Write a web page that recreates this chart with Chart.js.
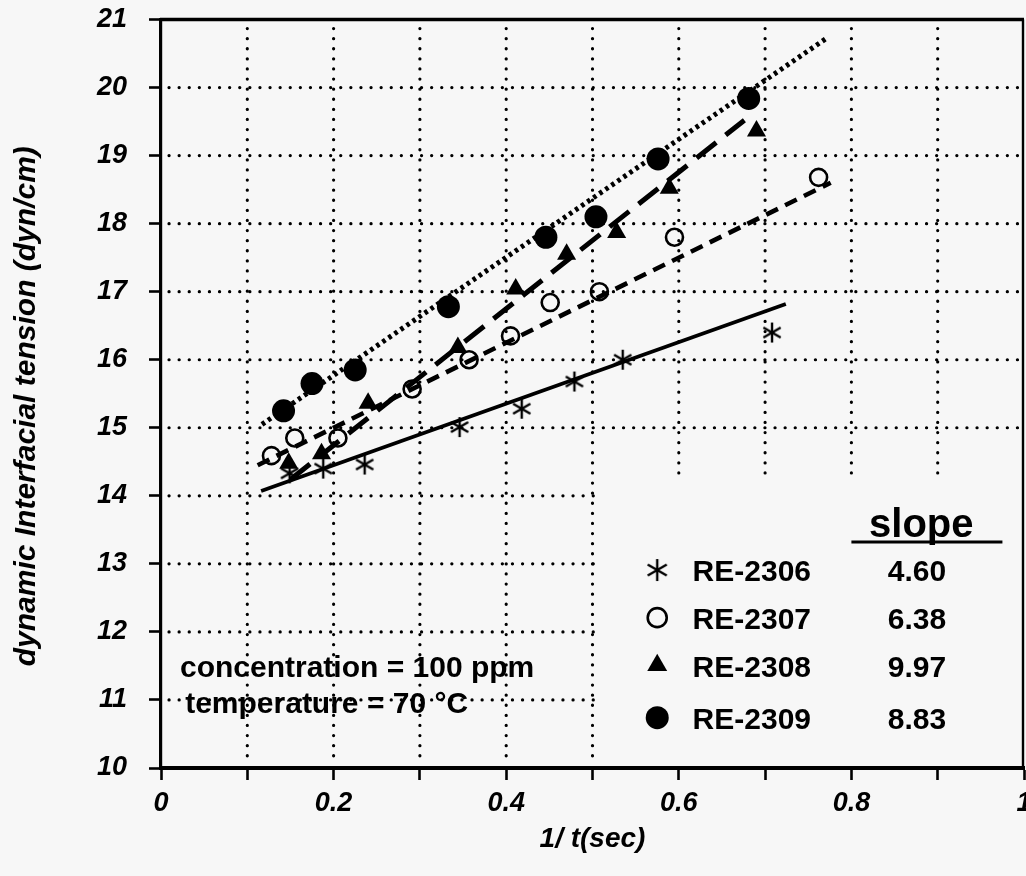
<!DOCTYPE html>
<html>
<head>
<meta charset="utf-8">
<script src="https://cdn.jsdelivr.net/npm/chart.js@4.4.0/dist/chart.umd.min.js"></script>
<style>
  html, body { margin: 0; padding: 0; background: #f7f7f7; }
  #wrap { width: 1026px; height: 876px; }
</style>
</head>
<body>
<div id="wrap"><canvas id="c" width="1026" height="876"></canvas></div>
<script>
// ---------------- data ----------------
const seriesNames = ['RE-2306', 'RE-2307', 'RE-2308', 'RE-2309'];
const slopeLabels = ['4.60', '6.38', '9.97', '8.83'];

const re2306X = [0.149, 0.188, 0.236, 0.346, 0.418, 0.479, 0.535, 0.708];
const re2306Y = [14.33, 14.40, 14.46, 15.01, 15.28, 15.68, 16.00, 16.40];

const re2307X = [0.128, 0.155, 0.205, 0.291, 0.357, 0.405, 0.451, 0.508, 0.595, 0.762];
const re2307Y = [14.59, 14.85, 14.85, 15.57, 16.00, 16.35, 16.84, 17.00, 17.80, 18.68];

const re2308X = [0.148, 0.186, 0.240, 0.344, 0.411, 0.470, 0.528, 0.589, 0.690];
const re2308Y = [14.48, 14.62, 15.36, 16.18, 17.04, 17.55, 17.87, 18.52, 19.36];

const re2309X = [0.142, 0.175, 0.225, 0.333, 0.446, 0.504, 0.576, 0.681];
const re2309Y = [15.25, 15.65, 15.85, 16.78, 17.80, 18.10, 18.95, 19.84];

// fitted lines (end points)
const fit2306X = [0.116, 0.724], fit2306Y = [14.07, 16.82];
const fit2307X = [0.112, 0.776], fit2307Y = [14.45, 18.60];
const fit2308X = [0.150, 0.676], fit2308Y = [14.24, 19.52];
const fit2309X = [0.117, 0.773], fit2309Y = [15.05, 20.74];

const xTickValues = [0, 0.2, 0.4, 0.6, 0.8, 1];
const xTickLabels = ['0', '0.2', '0.4', '0.6', '0.8', '1'];
const yTickValues = [10, 11, 12, 13, 14, 15, 16, 17, 18, 19, 20, 21];
const yTickLabels = ['10', '11', '12', '13', '14', '15', '16', '17', '18', '19', '20', '21'];
const xGridValues = [0.1, 0.2, 0.3, 0.4, 0.5, 0.6, 0.7, 0.8, 0.9];
const yGridValues = [11, 12, 13, 14, 15, 16, 17, 18, 19, 20];

const xTitle = '1/ t(sec)';
const yTitle = 'dynamic Interfacial tension (dyn/cm)   ';
const noteLines = ['concentration = 100 ppm', 'temperature = 70 °C'];
const slopeHeader = 'slope';

// ---------------- helpers ----------------
const FONT = '"Liberation Sans", Arial, Helvetica, sans-serif';
const pts = (xs, ys) => xs.map((v, i) => ({ x: v, y: ys[i] }));

function makeAsterisk(size, lw) {
  const c = document.createElement('canvas');
  c.width = size; c.height = size;
  const g = c.getContext('2d');
  g.strokeStyle = '#000'; g.lineWidth = lw;
  const cx = size / 2, r = size / 2 - 1;
  [90, 30, 150].forEach(a => {
    const t = a * Math.PI / 180;
    g.beginPath();
    g.moveTo(cx - r * Math.cos(t), cx - r * Math.sin(t));
    g.lineTo(cx + r * Math.cos(t), cx + r * Math.sin(t));
    g.stroke();
  });
  return c;
}
const asterisk = makeAsterisk(22, 2.4);
const asteriskLegend = makeAsterisk(24, 2.4);

const lineDs = (xs, ys, dash, width) => ({
  type: 'scatter', data: pts(xs, ys), showLine: true, borderColor: '#000',
  borderWidth: width, borderDash: dash, pointRadius: 0, pointHoverRadius: 0, fill: false, order: 2
});

const markerStyles = [
  { pointStyle: asterisk, pointRadius: 10, backgroundColor: '#000', borderColor: '#000', borderWidth: 0 },
  { pointStyle: 'circle', pointRadius: 8.5, backgroundColor: 'rgba(0,0,0,0)', borderColor: '#000', borderWidth: 2.6 },
  { pointStyle: 'triangle', pointRadius: 11, backgroundColor: '#000', borderColor: '#000', borderWidth: 0 },
  { pointStyle: 'circle', pointRadius: 11.5, backgroundColor: '#000', borderColor: '#000', borderWidth: 0 }
];
const legendMarkers = [
  { pointStyle: asteriskLegend, radius: 12, fill: '#000', stroke: '#000', bw: 0 },
  { pointStyle: 'circle', radius: 9.5, fill: 'rgba(0,0,0,0)', stroke: '#000', bw: 2.6 },
  { pointStyle: 'triangle', radius: 11.5, fill: '#000', stroke: '#000', bw: 0 },
  { pointStyle: 'circle', radius: 11.5, fill: '#000', stroke: '#000', bw: 0 }
];

const pointSets = [pts(re2306X, re2306Y), pts(re2307X, re2307Y), pts(re2308X, re2308Y), pts(re2309X, re2309Y)];
const pointDs = pointSets.map((d, i) => Object.assign({
  type: 'scatter', label: seriesNames[i], data: d, showLine: false, order: 1, pointHoverRadius: 0
}, markerStyles[i]));

// ---------------- plugins ----------------
const dotGrid = {
  id: 'dotGrid',
  beforeDatasetsDraw(chart) {
    const { ctx, scales: { x, y } } = chart;
    ctx.save();
    ctx.strokeStyle = '#000';
    ctx.lineWidth = 3.2;
    ctx.lineCap = 'round';
    ctx.setLineDash([0.1, 10]);
    xGridValues.forEach(v => {
      const px = x.getPixelForValue(v);
      const y0 = y.getPixelForValue(21) + 9;
      const y1 = v > 0.55 ? y.getPixelForValue(14.2) : y.getPixelForValue(10) - 9;
      ctx.beginPath(); ctx.moveTo(px, y0); ctx.lineTo(px, y1); ctx.stroke();
    });
    yGridValues.forEach(v => {
      const py = y.getPixelForValue(v);
      const x0 = x.getPixelForValue(0) + 8;
      const x1 = v <= 14 ? x.getPixelForValue(0.505) : x.getPixelForValue(1) - 6;
      ctx.beginPath(); ctx.moveTo(x0, py); ctx.lineTo(x1, py); ctx.stroke();
    });
    ctx.restore();
  }
};

const frame = {
  id: 'frame',
  afterDraw(chart) {
    const { ctx, chartArea: a } = chart;
    ctx.save();
    ctx.strokeStyle = '#000';
    ctx.lineWidth = 3.5;
    ctx.beginPath(); ctx.moveTo(a.left - 1, a.top); ctx.lineTo(a.right, a.top); ctx.stroke();
    ctx.lineWidth = 2.4;
    ctx.beginPath(); ctx.moveTo(a.right - 1, a.top); ctx.lineTo(a.right - 1, a.bottom); ctx.stroke();
    ctx.restore();
  }
};

const notes = {
  id: 'notes',
  afterDatasetsDraw(chart) {
    const { ctx, scales: { x, y } } = chart;
    ctx.save();
    ctx.fillStyle = '#000';
    ctx.strokeStyle = '#000';
    // conditions text
    ctx.font = 'bold 30px ' + FONT;
    ctx.textAlign = 'left';
    ctx.textBaseline = 'middle';
    ctx.fillText(noteLines[0], x.getPixelForValue(0.022), y.getPixelForValue(11.46));
    ctx.fillText(noteLines[1], x.getPixelForValue(0.028), y.getPixelForValue(10.93));

    // slope header
    ctx.font = 'bold 40px ' + FONT;
    ctx.textAlign = 'center';
    ctx.textBaseline = 'alphabetic';
    ctx.fillText(slopeHeader, x.getPixelForValue(0.881), y.getPixelForValue(13.40));
    ctx.lineWidth = 3;
    ctx.beginPath();
    ctx.moveTo(x.getPixelForValue(0.80), y.getPixelForValue(13.32));
    ctx.lineTo(x.getPixelForValue(0.975), y.getPixelForValue(13.32));
    ctx.stroke();

    // legend rows
    const rowY = [12.88, 12.18, 11.48, 10.71];
    ctx.font = 'bold 30px ' + FONT;
    ctx.textBaseline = 'middle';
    rowY.forEach((yv, i) => {
      const py = y.getPixelForValue(yv);
      const m = legendMarkers[i];
      ctx.fillStyle = m.fill; ctx.strokeStyle = m.stroke; ctx.lineWidth = m.bw;
      Chart.helpers.drawPoint(ctx, { pointStyle: m.pointStyle, radius: m.radius, borderWidth: m.bw, rotation: 0 },
        x.getPixelForValue(0.575), py - 2);
      ctx.fillStyle = '#000';
      ctx.textAlign = 'left';
      ctx.fillText(seriesNames[i], x.getPixelForValue(0.616), py + 1);
      ctx.textAlign = 'center';
      ctx.fillText(slopeLabels[i], x.getPixelForValue(0.876), py + 1);
    });
    ctx.restore();
  }
};

// ---------------- chart ----------------
const tickFont = { family: FONT, size: 27, weight: 'bold', style: 'italic' };
const xTitleFont = { family: FONT, size: 28, weight: 'bold', style: 'italic' };
const yTitleFont = { family: FONT, size: 30, weight: 'bold', style: 'italic' };

new Chart(document.getElementById('c'), {
  type: 'scatter',
  data: {
    datasets: [
      lineDs(fit2306X, fit2306Y, [], 3.8),
      lineDs(fit2307X, fit2307Y, [13, 8], 4.6),
      lineDs(fit2308X, fit2308Y, [25, 12], 5),
      lineDs(fit2309X, fit2309Y, [3.5, 3.8], 5),
      ...pointDs
    ]
  },
  options: {
    responsive: false,
    devicePixelRatio: 1,
    animation: false,
    events: [],
    layout: { autoPadding: false, padding: { left: 0, right: 2, top: 19.5, bottom: 8 } },
    plugins: { legend: { display: false }, tooltip: { enabled: false } },
    scales: {
      x: {
        type: 'linear', min: 0, max: 1,
        afterFit: s => { s.paddingRight = 0; s.paddingLeft = 0; s.height = 100; },
        ticks: {
          stepSize: 0.1, autoSkip: false, maxRotation: 0, color: '#000', font: tickFont, padding: 7,
          callback: v => {
            const i = xTickValues.findIndex(t => Math.abs(t - v) < 1e-6);
            return i >= 0 ? xTickLabels[i] : '';
          }
        },
        grid: { drawOnChartArea: false, drawTicks: true, tickLength: 12, tickWidth: 2.6, tickColor: '#000', color: '#000' },
        border: { display: true, color: '#000', width: 4 },
        title: { display: true, text: xTitle, color: '#000', font: xTitleFont, padding: { top: 0, bottom: 12 } }
      },
      y: {
        type: 'linear', min: 10, max: 21,
        afterFit: s => { s.width = 161; s.paddingTop = 0; s.paddingBottom = 0; },
        ticks: {
          stepSize: 1, autoSkip: false, color: '#000', font: tickFont, padding: 22,
          callback: v => {
            const i = yTickValues.findIndex(t => Math.abs(t - v) < 1e-6);
            return i >= 0 ? yTickLabels[i] : '';
          }
        },
        grid: { drawOnChartArea: false, drawTicks: true, tickLength: 12, tickWidth: 2.6, tickColor: '#000', color: '#000' },
        border: { display: true, color: '#000', width: 3.2 },
        title: { display: true, text: yTitle, color: '#000', font: yTitleFont, padding: { top: 9, bottom: 0 } }
      }
    }
  },
  plugins: [dotGrid, notes, frame]
});
</script>
</body>
</html>
